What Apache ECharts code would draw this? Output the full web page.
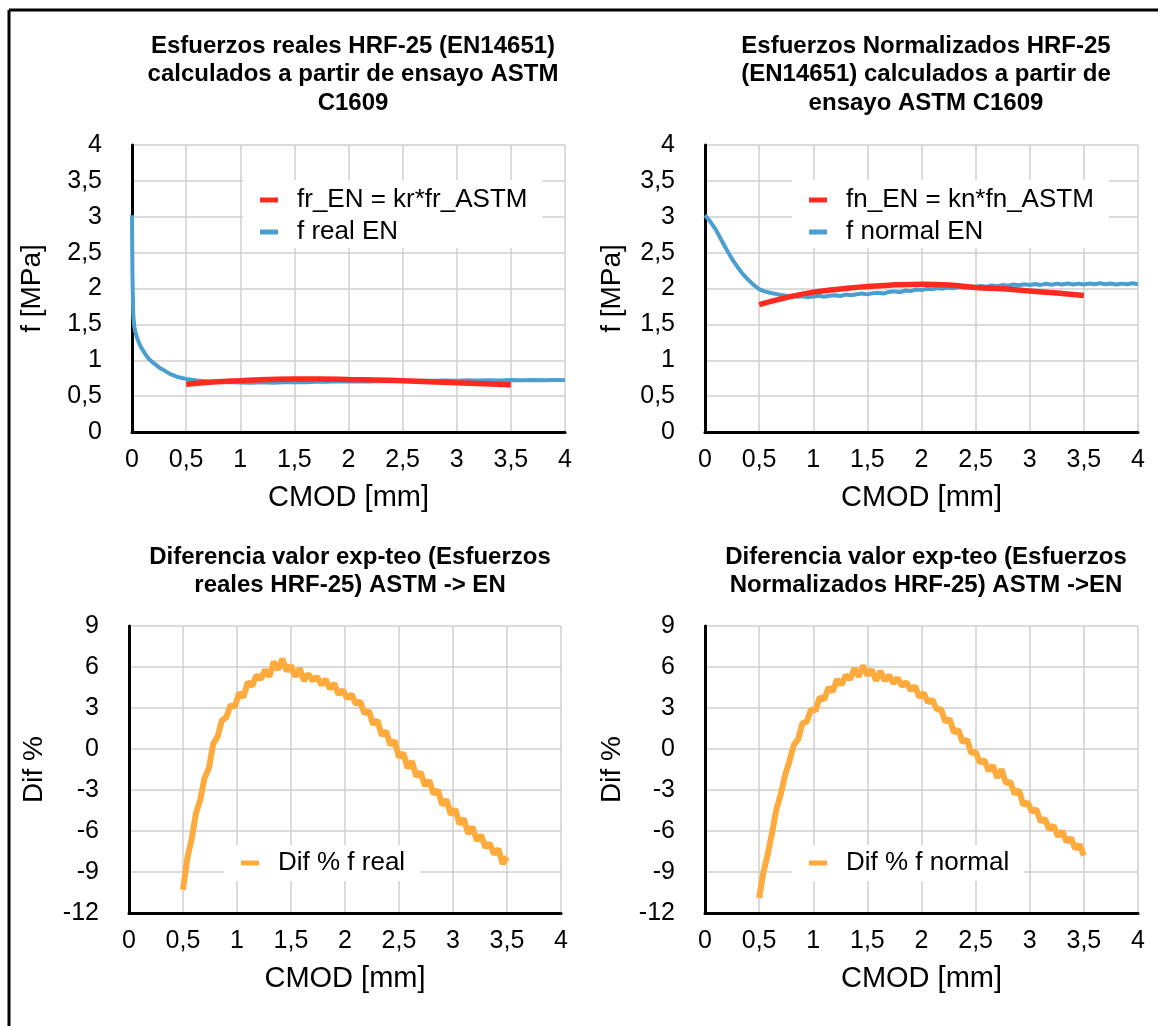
<!DOCTYPE html>
<html>
<head>
<meta charset="utf-8">
<script src="https://cdn.jsdelivr.net/npm/echarts@6/dist/echarts.min.js"></script>
<style>html,body{margin:0;padding:0;background:#fff;}#c{width:1158px;height:1026px;}</style>
</head>
<body>
<div id="c"></div>
<script>
// ---------- DATA ----------
const xTicks = [0, 0.5, 1, 1.5, 2, 2.5, 3, 3.5, 4];
const fTicks = [0, 0.5, 1, 1.5, 2, 2.5, 3, 3.5, 4];
const difTicks = [-12, -9, -6, -3, 0, 3, 6, 9];

// Top-left: f real EN (blue)
const realEN_x = [0, 0.002, 0.004, 0.007, 0.012, 0.02, 0.03, 0.045, 0.06, 0.08, 0.1, 0.13, 0.16, 0.2, 0.25, 0.3, 0.35, 0.4, 0.45, 0.5, 0.55, 0.6, 0.7, 0.8, 0.9, 1.0, 1.1, 1.2, 1.3, 1.4, 1.5, 1.6, 1.7, 1.8, 1.9, 2.0, 2.1, 2.2, 2.3, 2.4, 2.5, 2.6, 2.7, 2.8, 2.9, 3.0, 3.1, 3.2, 3.3, 3.4, 3.5, 3.6, 3.7, 3.8, 3.9, 4.0];
const realEN_y = [3.02, 2.6, 2.25, 1.95, 1.62, 1.48, 1.40, 1.32, 1.26, 1.19, 1.14, 1.07, 1.01, 0.96, 0.9, 0.855, 0.81, 0.78, 0.755, 0.74, 0.728, 0.718, 0.705, 0.698, 0.692, 0.69, 0.686, 0.692, 0.688, 0.694, 0.698, 0.693, 0.701, 0.699, 0.706, 0.703, 0.709, 0.705, 0.712, 0.708, 0.714, 0.71, 0.716, 0.713, 0.719, 0.716, 0.72, 0.717, 0.723, 0.719, 0.724, 0.72, 0.725, 0.722, 0.726, 0.723];

// Top-left: fr_EN = kr*fr_ASTM (red)
const fit_x = [0.5, 0.75, 1.0, 1.25, 1.5, 1.75, 2.0, 2.25, 2.5, 2.75, 3.0, 3.25, 3.5];
const realFit_y = [0.665, 0.697, 0.716, 0.73, 0.738, 0.737, 0.731, 0.724, 0.714, 0.70, 0.685, 0.672, 0.66];

// Top-right: f normal EN (blue)
const normEN_x = [0, 0.05, 0.1, 0.15, 0.2, 0.25, 0.3, 0.35, 0.4, 0.45, 0.5, 0.55, 0.6, 0.65, 0.7, 0.75, 0.8, 0.85, 0.9, 0.95, 1.0, 1.05, 1.1, 1.15, 1.2, 1.25, 1.3, 1.35, 1.4, 1.45, 1.5, 1.55, 1.6, 1.65, 1.7, 1.75, 1.8, 1.85, 1.9, 1.95, 2.0, 2.05, 2.1, 2.15, 2.2, 2.25, 2.3, 2.35, 2.4, 2.45, 2.5, 2.55, 2.6, 2.65, 2.7, 2.75, 2.8, 2.85, 2.9, 2.95, 3.0, 3.05, 3.1, 3.15, 3.2, 3.25, 3.3, 3.35, 3.4, 3.45, 3.5, 3.55, 3.6, 3.65, 3.7, 3.75, 3.8, 3.85, 3.9, 3.95, 4.0];
const normEN_y = [3.02, 2.93, 2.82, 2.68, 2.54, 2.41, 2.3, 2.2, 2.12, 2.05, 1.99, 1.96, 1.94, 1.925, 1.91, 1.9, 1.895, 1.885, 1.893, 1.882, 1.89, 1.898, 1.885, 1.9, 1.905, 1.895, 1.915, 1.905, 1.92, 1.93, 1.918, 1.935, 1.942, 1.93, 1.952, 1.96, 1.948, 1.972, 1.965, 1.985, 1.978, 1.995, 1.988, 2.005, 1.998, 2.012, 2.005, 2.02, 2.012, 2.028, 2.02, 2.035, 2.026, 2.042, 2.033, 2.05, 2.04, 2.055, 2.045, 2.06, 2.048, 2.062, 2.05, 2.065, 2.052, 2.068, 2.055, 2.07, 2.057, 2.068, 2.055, 2.07, 2.058, 2.072, 2.06, 2.07, 2.056, 2.068, 2.058, 2.072, 2.06];

// Top-right: fn_EN = kn*fn_ASTM (red)
const normFit_y = [1.775, 1.872, 1.949, 1.993, 2.029, 2.051, 2.06, 2.05, 2.015, 1.995, 1.964, 1.936, 1.903];

// Bottom: Dif % (orange)
const dif_x = [0.50, 0.54, 0.58, 0.62, 0.66, 0.70, 0.74, 0.78, 0.82, 0.86, 0.90, 0.94, 0.98, 1.02, 1.06, 1.10, 1.14, 1.18, 1.22, 1.26, 1.30, 1.34, 1.38, 1.42, 1.46, 1.50, 1.54, 1.58, 1.62, 1.66, 1.70, 1.74, 1.78, 1.82, 1.86, 1.90, 1.94, 1.98, 2.02, 2.06, 2.10, 2.14, 2.18, 2.22, 2.26, 2.30, 2.34, 2.38, 2.42, 2.46, 2.50, 2.54, 2.58, 2.62, 2.66, 2.70, 2.74, 2.78, 2.82, 2.86, 2.90, 2.94, 2.98, 3.02, 3.06, 3.10, 3.14, 3.18, 3.22, 3.26, 3.30, 3.34, 3.38, 3.42, 3.46, 3.50];
const difReal_y = [-10.3, -8.0, -6.6, -4.7, -3.7, -2.1, -1.4, 0.4, 0.9, 2.1, 2.3, 3.2, 3.1, 4.1, 3.8, 4.9, 4.6, 5.4, 5.1, 5.8, 5.3, 6.4, 5.8, 6.6, 5.7, 6.1, 5.3, 5.9, 5.0, 5.5, 5.0, 5.3, 4.7, 5.1, 4.4, 4.8, 4.0, 4.3, 3.7, 4.0, 3.3, 3.5, 2.6, 2.8, 1.8, 2.1, 1.0, 1.3, 0.3, 0.6, -0.6, -0.3, -1.4, -0.9, -2.0, -1.7, -2.7, -2.3, -3.3, -3.0, -4.1, -3.7, -4.8, -4.4, -5.5, -5.1, -6.2, -5.7, -6.7, -6.3, -7.2, -6.9, -7.7, -7.3, -8.4, -7.9];
const difNorm_y = [-10.9, -9.0, -7.7, -6.1, -4.4, -3.3, -1.9, -0.9, 0.3, 0.7, 1.9, 2.0, 2.9, 2.8, 3.8, 3.6, 4.5, 4.2, 5.1, 4.7, 5.4, 5.1, 5.9, 5.3, 6.1, 5.4, 5.8, 5.0, 5.7, 5.0, 5.4, 4.8, 5.2, 4.6, 4.9, 4.3, 4.6, 3.8, 4.1, 3.4, 3.6, 2.9, 2.9, 2.0, 2.2, 1.2, 1.4, 0.5, 0.7, -0.3, -0.2, -1.0, -0.8, -1.6, -1.2, -2.1, -1.5, -2.5, -2.4, -3.3, -3.0, -4.1, -3.9, -4.6, -4.4, -5.3, -5.1, -5.9, -5.6, -6.4, -6.0, -6.8, -6.5, -7.3, -7.0, -7.8];

// ---------- CHART ----------
const FONT = 'Liberation Sans, Arial, Helvetica, sans-serif';
const RED = '#ff2a1f', BLUE = '#4a9fd0', ORANGE = '#ffaa3c';
const fmt = v => String(v).replace('.', ',');
const pairs = (xs, ys) => xs.map((x, i) => [x, ys[i]]);

const grids = [
  {left: 132, top: 145, width: 433, height: 287},
  {left: 705, top: 145, width: 433, height: 287},
  {left: 129, top: 626, width: 432, height: 287},
  {left: 705, top: 626, width: 433, height: 287}
];

function xAx(i) {
  return {
    type: 'value', gridIndex: i, min: xTicks[0], max: xTicks[xTicks.length - 1], interval: 0.5,
    axisLine: {onZero: false, lineStyle: {color: '#000', width: 3}},
    axisTick: {show: false},
    splitLine: {lineStyle: {color: '#cfcfcf', width: 1.5}},
    axisLabel: {fontSize: 25, color: '#000', margin: 16, fontFamily: FONT, formatter: fmt},
    name: 'CMOD [mm]', nameLocation: 'middle', nameGap: 51,
    nameTextStyle: {fontSize: 29, color: '#000', fontFamily: FONT}
  };
}
function yAx(i, ticks, name, gap) {
  return {
    type: 'value', gridIndex: i, min: ticks[0], max: ticks[ticks.length - 1], interval: ticks[1] - ticks[0],
    axisLine: {show: true, onZero: false, lineStyle: {color: '#000', width: 3}},
    axisTick: {show: false},
    splitLine: {lineStyle: {color: '#cfcfcf', width: 1.5}},
    axisLabel: {fontSize: 25, color: '#000', margin: 30, fontFamily: FONT, formatter: fmt},
    name: name, nameLocation: 'middle', nameGap: gap,
    nameTextStyle: {fontSize: 28, color: '#000', fontFamily: FONT}
  };
}
function title(text, cx, top) {
  return {
    text: text, left: cx, top: top, textAlign: 'center',
    textStyle: {fontSize: 24, fontWeight: 'bold', color: '#000', lineHeight: 28.5, fontFamily: FONT}
  };
}
function legend(names, left, top, pad) {
  return {
    data: names, orient: 'vertical', left: left, top: top,
    backgroundColor: '#fff', padding: pad, itemGap: 6,
    icon: 'rect', itemWidth: 18, itemHeight: 5,
    textStyle: {fontSize: 26, color: '#000', fontFamily: FONT, padding: [0, 0, 0, 14]}
  };
}
function line(name, xi, data, color, width, smooth) {
  return {
    name: name, type: 'line', xAxisIndex: xi, yAxisIndex: xi, data: data,
    showSymbol: false, symbol: 'none', smooth: !!smooth, animation: false,
    lineStyle: {color: color, width: width}, itemStyle: {color: color}
  };
}

const chart = echarts.init(document.getElementById('c'), null, {renderer: 'canvas'});
chart.setOption({
  animation: false,
  backgroundColor: '#fff',
  title: [
    title('Esfuerzos reales HRF-25 (EN14651)\ncalculados a partir de ensayo ASTM\nC1609', 348, 27),
    title('Esfuerzos Normalizados HRF-25\n(EN14651) calculados a partir de\nensayo ASTM C1609', 921, 27),
    title('Diferencia valor exp-teo (Esfuerzos\nreales HRF-25) ASTM -> EN', 345, 538),
    title('Diferencia valor exp-teo (Esfuerzos\nNormalizados HRF-25) ASTM ->EN', 921, 538)
  ],
  legend: [
    legend(['fr_EN = kr*fr_ASTM', 'f real EN'], 243, 180, [7, 15, 3, 17]),
    legend(['fn_EN = kn*fn_ASTM', 'f normal EN'], 792, 180, [7, 15, 3, 17]),
    legend(['Dif % f real'], 224, 845, [5, 15, 5, 17]),
    legend(['Dif % f normal'], 792, 845, [5, 15, 5, 17])
  ],
  grid: grids,
  xAxis: [xAx(0), xAx(1), xAx(2), xAx(3)],
  yAxis: [
    yAx(0, fTicks, 'f [MPa]', 86),
    yAx(1, fTicks, 'f [MPa]', 79),
    yAx(2, difTicks, 'Dif %', 81),
    yAx(3, difTicks, 'Dif %', 79)
  ],
  series: [
    line('f real EN', 0, pairs(realEN_x, realEN_y), BLUE, 4),
    line('fr_EN = kr*fr_ASTM', 0, pairs(fit_x, realFit_y), RED, 5.5, true),
    line('f normal EN', 1, pairs(normEN_x, normEN_y), BLUE, 4),
    line('fn_EN = kn*fn_ASTM', 1, pairs(fit_x, normFit_y), RED, 5.5, true),
    line('Dif % f real', 2, pairs(dif_x, difReal_y), ORANGE, 6),
    line('Dif % f normal', 3, pairs(dif_x, difNorm_y), ORANGE, 6)
  ],
  graphic: [
    {type: 'line', shape: {x1: 9, y1: 10, x2: 1158, y2: 10}, style: {stroke: '#000', lineWidth: 3}},
    {type: 'line', shape: {x1: 9, y1: 10, x2: 9, y2: 1026}, style: {stroke: '#000', lineWidth: 3}}
  ]
});
</script>
</body>
</html>
